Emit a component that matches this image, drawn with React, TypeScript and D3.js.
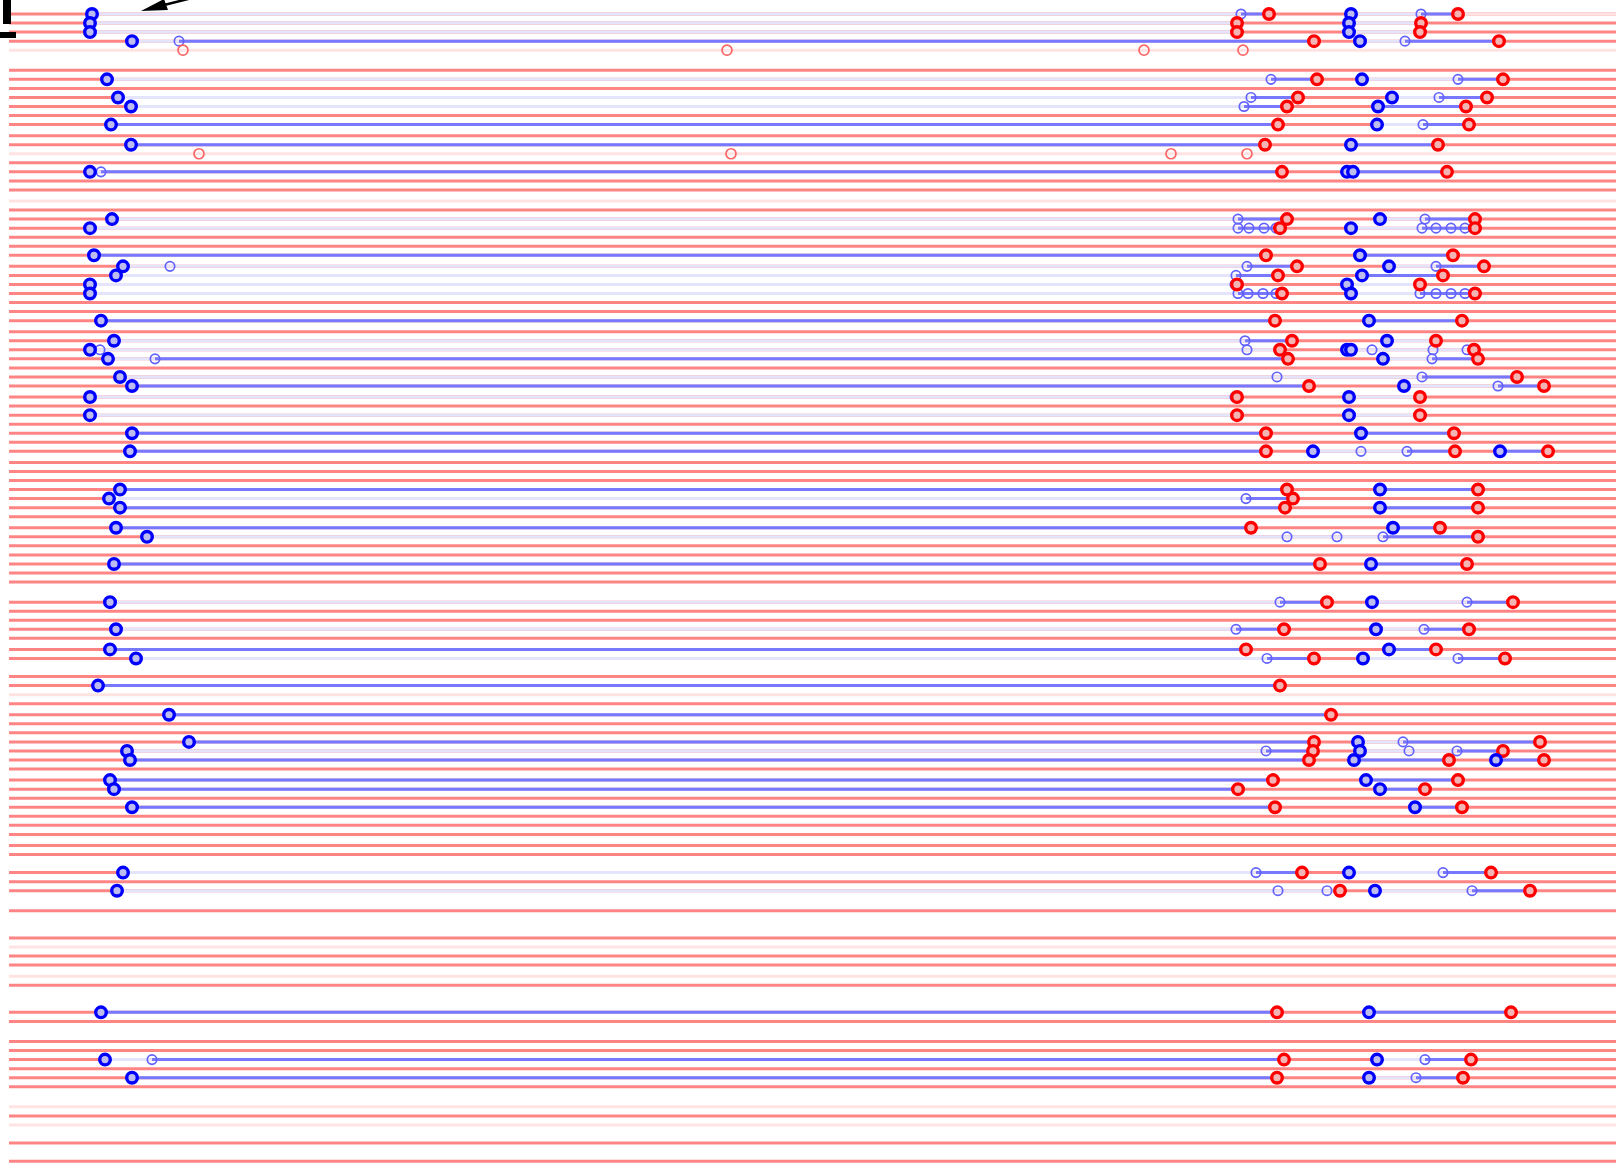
import React, { useEffect, useRef } from 'react';
import * as d3 from 'd3';

// one string per week block: R = red row, P = faded row, - = empty row
const rowGroups: string[] = [
  'RRRRP-',
  'RRRRRRR',
  'RRPRRRR',
  'PRRRRRR',
  'RRRRRRR',
  'RRRRRRR',
  'RRRRRRR',
  'RRRRRRR',
  'RRRRRRR',
  '-RRRRR',
  'RR-RRPR',
  'RRRRRRR',
  'RRRRRRR',
  'RR-RRR-',
  'R--RPRR',
  'PR--RR-',
  'RRRRRR-',
  'PRP-R-R',
];

// [row, start, end]  start = blue ring, end = red ring
const sessions: [number, number, number][] = [
  [0, 92, 1269], [0, 1351, 1458],
  [1, 90, 1237], [1, 1349, 1421],
  [2, 90, 1237], [2, 1349, 1420],
  [3, 132, 1314], [3, 1360, 1499],
  [7, 107, 1317], [7, 1362, 1503],
  [9, 118, 1298], [9, 1392, 1487],
  [10, 131, 1287], [10, 1378, 1466],
  [12, 111, 1278], [12, 1377, 1469],
  [14, 131, 1265], [14, 1351, 1438],
  [17, 90, 1282], [17, 1347, 1447],
  [22, 112, 1287], [22, 1380, 1475],
  [23, 90, 1280], [23, 1351, 1475],
  [26, 94, 1266], [26, 1360, 1453],
  [27, 123, 1297], [27, 1389, 1484],
  [28, 116, 1278], [28, 1362, 1443],
  [29, 90, 1237], [29, 1347, 1420],
  [30, 90, 1282], [30, 1351, 1475],
  [33, 101, 1275], [33, 1369, 1462],
  [35, 114, 1292], [35, 1387, 1436],
  [36, 90, 1280], [36, 1347, 1474],
  [37, 108, 1288], [37, 1383, 1478],
  [39, 120, 1517],
  [40, 132, 1309], [40, 1404, 1544],
  [41, 90, 1237], [41, 1349, 1420],
  [43, 90, 1237], [43, 1349, 1420],
  [45, 132, 1266], [45, 1361, 1454],
  [47, 130, 1266], [47, 1313, 1455], [47, 1500, 1548],
  [51, 120, 1287], [51, 1380, 1478],
  [52, 109, 1293],
  [53, 120, 1285], [53, 1380, 1478],
  [55, 116, 1251], [55, 1393, 1440],
  [56, 147, 1478],
  [59, 114, 1320], [59, 1371, 1467],
  [63, 110, 1327], [63, 1372, 1513],
  [66, 116, 1284], [66, 1376, 1469],
  [68, 110, 1246], [68, 1389, 1436],
  [69, 136, 1314], [69, 1363, 1505],
  [72, 98, 1280],
  [75, 169, 1331],
  [78, 189, 1314], [78, 1358, 1540],
  [79, 127, 1313], [79, 1360, 1503],
  [80, 130, 1309], [80, 1354, 1449], [80, 1496, 1544],
  [82, 110, 1273], [82, 1366, 1458],
  [83, 114, 1238], [83, 1380, 1425],
  [85, 132, 1275], [85, 1415, 1462],
  [92, 123, 1302], [92, 1349, 1491],
  [94, 117, 1340], [94, 1375, 1530],
  [107, 101, 1277], [107, 1369, 1511],
  [112, 105, 1284], [112, 1377, 1471],
  [114, 132, 1277], [114, 1369, 1463],
];

// [row, from, to] solid blue stretches
const activeSpans: [number, number, number][] = [
  [0, 1241, 1269], [0, 1421, 1458],
  [3, 179, 1314], [3, 1405, 1499],
  [7, 1271, 1317], [7, 1458, 1503],
  [9, 1251, 1298], [9, 1439, 1487],
  [10, 1244, 1287], [10, 1378, 1466],
  [12, 111, 1278], [12, 1423, 1469],
  [14, 131, 1265], [14, 1351, 1438],
  [17, 101, 1282], [17, 1353, 1447],
  [22, 1238, 1287], [22, 1425, 1475],
  [23, 1238, 1280], [23, 1422, 1475],
  [26, 94, 1266], [26, 1360, 1453],
  [27, 1247, 1297], [27, 1436, 1484],
  [28, 1236, 1278], [28, 1362, 1443],
  [30, 1238, 1282], [30, 1420, 1475],
  [33, 101, 1275], [33, 1369, 1462],
  [35, 1245, 1292],
  [37, 155, 1288], [37, 1432, 1478],
  [39, 1422, 1517],
  [40, 132, 1309], [40, 1498, 1544],
  [45, 132, 1266], [45, 1361, 1454],
  [47, 130, 1266], [47, 1407, 1455], [47, 1500, 1548],
  [51, 120, 1287], [51, 1380, 1478],
  [52, 1246, 1293],
  [53, 120, 1285], [53, 1380, 1478],
  [55, 116, 1251], [55, 1393, 1440],
  [56, 1383, 1478],
  [59, 114, 1320], [59, 1371, 1467],
  [63, 1280, 1327], [63, 1467, 1513],
  [66, 1236, 1284], [66, 1424, 1469],
  [68, 110, 1246], [68, 1389, 1436],
  [69, 1267, 1314], [69, 1458, 1505],
  [72, 98, 1280],
  [75, 169, 1331],
  [78, 189, 1314], [78, 1403, 1540],
  [79, 1266, 1313], [79, 1457, 1503],
  [80, 130, 1309], [80, 1354, 1449], [80, 1496, 1544],
  [82, 110, 1273], [82, 1366, 1458],
  [83, 114, 1238], [83, 1380, 1425],
  [85, 132, 1275], [85, 1415, 1462],
  [92, 1256, 1302], [92, 1443, 1491],
  [94, 1472, 1530],
  [107, 101, 1277], [107, 1369, 1511],
  [112, 152, 1284], [112, 1425, 1471],
  [114, 132, 1277], [114, 1416, 1463],
];

// [row, x] small hollow blue rings
const ticks: [number, number][] = [
  [0, 1241], [0, 1421], [3, 179], [3, 1405], [7, 1271], [7, 1458],
  [9, 1251], [9, 1439], [10, 1244], [12, 1423], [17, 101], [22, 1238], [22, 1425],
  [23, 1238], [23, 1249], [23, 1264], [23, 1276], [23, 1422], [23, 1436], [23, 1451], [23, 1465],
  [27, 170], [27, 1247], [27, 1436], [28, 1236], [29, 1235],
  [30, 1238], [30, 1248], [30, 1263], [30, 1276], [30, 1420], [30, 1436], [30, 1451], [30, 1465],
  [35, 1245], [36, 100], [36, 1247], [36, 1372], [36, 1433], [36, 1467],
  [37, 155], [37, 1432], [39, 1277], [39, 1422], [40, 1498], [41, 1235],
  [47, 1361], [47, 1407], [52, 1246], [56, 1287], [56, 1337], [56, 1383],
  [63, 1280], [63, 1467], [66, 1236], [66, 1424], [69, 1267], [69, 1458],
  [78, 1403], [79, 1266], [79, 1409], [79, 1457], [92, 1256], [92, 1443],
  [94, 1278], [94, 1327], [94, 1472], [112, 152], [112, 1425], [114, 1416],
];

// [row, x] second blue ring stacked on a start
const extraStarts: [number, number][] = [[17, 1353], [36, 1351]];

// [row, x] small hollow red rings on faded rows
const marks: [number, number][] = [
  [4, 183], [4, 727], [4, 1144], [4, 1243],
  [15, 199], [15, 731], [15, 1171], [15, 1247],
];

// [row, x] row turns faded from here to the right edge
const paleTails: [number, number][] = [[0, 1458]];

const W = 1616;
const H = 1163;

export default function App() {
  const svgRef = useRef<SVGSVGElement>(null);

  useEffect(() => {
    if (!svgRef.current) return;
    const svg = d3.select(svgRef.current);
    svg.selectAll('*').remove();

    const rows = rowGroups.flatMap((g, gi) =>
      g.split('').map((kind) => ({ kind, group: gi, index: 0 }))
    );
    rows.forEach((r, i) => (r.index = i));

    const x = d3.scaleLinear().domain([0, W]).range([0, W]);
    const rowStep = 9.05;
    const groupGap = 2;
    const yRow = d3.scaleLinear().domain([0, 1]).range([14, 14 + rowStep]);
    const y = (i: number) => yRow(i) + rows[i].group * groupGap;

    const x0 = 9;

    // base row lines
    svg.append('g')
      .selectAll('line')
      .data(rows.filter((r) => r.kind !== '-'))
      .enter()
      .append('line')
      .attr('x1', x0)
      .attr('x2', W)
      .attr('y1', (d) => y(d.index))
      .attr('y2', (d) => y(d.index))
      .attr('stroke', (d) => (d.kind === 'P' ? '#ffe3e3' : '#ff8585'))
      .attr('stroke-width', 3);

    // lavender between start and end
    svg.append('g')
      .selectAll('line')
      .data(sessions)
      .enter()
      .append('line')
      .attr('x1', (d) => x(d[1]))
      .attr('x2', (d) => x(d[2]))
      .attr('y1', (d) => y(d[0]))
      .attr('y2', (d) => y(d[0]))
      .attr('stroke', '#e4e4fc')
      .attr('stroke-width', 3);

    svg.append('g')
      .selectAll('line')
      .data(paleTails)
      .enter()
      .append('line')
      .attr('x1', (d) => x(d[1]))
      .attr('x2', W)
      .attr('y1', (d) => y(d[0]))
      .attr('y2', (d) => y(d[0]))
      .attr('stroke', '#ffe3e3')
      .attr('stroke-width', 3);

    // blue active spans
    svg.append('g')
      .selectAll('line')
      .data(activeSpans)
      .enter()
      .append('line')
      .attr('x1', (d) => x(d[1]))
      .attr('x2', (d) => x(d[2]))
      .attr('y1', (d) => y(d[0]))
      .attr('y2', (d) => y(d[0]))
      .attr('stroke', '#7878ff')
      .attr('stroke-width', 3);

    // small rings
    svg.append('g')
      .selectAll('circle')
      .data(ticks)
      .enter()
      .append('circle')
      .attr('cx', (d) => x(d[1]))
      .attr('cy', (d) => y(d[0]))
      .attr('r', 4.7)
      .attr('fill', 'none')
      .attr('stroke', '#6262ff')
      .attr('stroke-width', 1.7);

    svg.append('g')
      .selectAll('circle')
      .data(marks)
      .enter()
      .append('circle')
      .attr('cx', (d) => x(d[1]))
      .attr('cy', (d) => y(d[0]))
      .attr('r', 5)
      .attr('fill', 'none')
      .attr('stroke', '#ff6464')
      .attr('stroke-width', 1.7);

    // end rings (red) then start rings (blue)
    svg.append('g')
      .selectAll('circle')
      .data(sessions)
      .enter()
      .append('circle')
      .attr('cx', (d) => x(d[2]))
      .attr('cy', (d) => y(d[0]))
      .attr('r', 5.3)
      .attr('fill', '#f4b4b4')
      .attr('stroke', '#ff0000')
      .attr('stroke-width', 3.4);

    const starts: [number, number][] = [
      ...sessions.map((d) => [d[0], d[1]] as [number, number]),
      ...extraStarts,
    ];
    svg.append('g')
      .selectAll('circle')
      .data(starts)
      .enter()
      .append('circle')
      .attr('cx', (d) => x(d[1]))
      .attr('cy', (d) => y(d[0]))
      .attr('r', 5.3)
      .attr('fill', '#bcbcf0')
      .attr('stroke', '#0000ff')
      .attr('stroke-width', 3.4);

    // clipped annotation in the top-left corner
    const note = svg.append('g').attr('fill', '#000');
    note.append('rect').attr('x', 3).attr('y', 0).attr('width', 8).attr('height', 24);
    note.append('rect').attr('x', 0).attr('y', 32).attr('width', 16).attr('height', 6);
    note.append('line')
      .attr('x1', 200).attr('y1', -4).attr('x2', 160).attr('y2', 6)
      .attr('stroke', '#000').attr('stroke-width', 2.5);
    note.append('path').attr('d', 'M141,11 L168,10 L164,-1 Z');
  }, []);

  return (
    <svg
      ref={svgRef}
      width={W}
      height={H}
      style={{ position: 'absolute', left: 0, top: 0, background: '#fff' }}
    />
  );
}
